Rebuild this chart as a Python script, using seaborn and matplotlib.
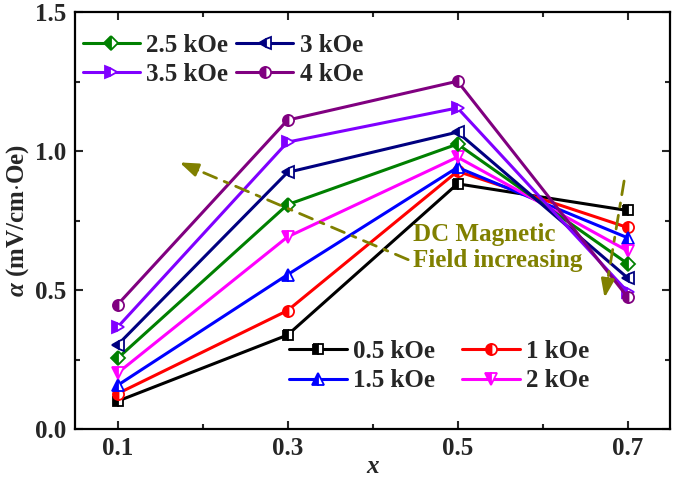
import matplotlib
matplotlib.use("Agg")
import matplotlib.pyplot as plt
import seaborn as sns
import pandas as pd
from matplotlib.ticker import MultipleLocator

sns.set_theme(style="ticks")
plt.rcParams['font.family'] = ['Liberation Serif', 'DejaVu Serif']
plt.rcParams['font.weight'] = 'bold'
plt.rcParams['mathtext.fontset'] = 'custom'
plt.rcParams['mathtext.it'] = 'Liberation Serif:italic:bold'
plt.rcParams['mathtext.rm'] = 'Liberation Serif:bold'
plt.rcParams['mathtext.bf'] = 'Liberation Serif:bold'

x_vals = [0.1, 0.3, 0.5, 0.7]
field_labels = ["0.5 kOe", "1 kOe", "1.5 kOe", "2 kOe", "2.5 kOe", "3 kOe", "3.5 kOe", "4 kOe"]
a_05 = [0.10, 0.338, 0.882, 0.786]
a_1 = [0.127, 0.426, 0.927, 0.725]
a_15 = [0.157, 0.555, 0.941, 0.688]
a_2 = [0.201, 0.691, 0.978, 0.641]
a_25 = [0.254, 0.807, 1.025, 0.595]
a_3 = [0.302, 0.923, 1.068, 0.544]
a_35 = [0.366, 1.032, 1.155, 0.494]
a_4 = [0.447, 1.111, 1.251, 0.475]
series = [a_05, a_1, a_15, a_2, a_25, a_3, a_35, a_4]

colors = ["#000000", "#FF0000", "#0000FF", "#FF00FF", "#008000", "#000080", "#8000FF", "#800080"]
markers = ["s", "o", "^", "v", "D", "<", ">", "o"]
msizes = [7, 8, 8.5, 8.5, 7, 8.5, 8.5, 8]

FS = 18

fig = plt.figure(figsize=(6.75, 4.8), dpi=100)
ax = fig.add_axes([75/675, 1-429/480, 595/675, 417/480])

handles = {}
for lab, vals, c, m, ms in zip(field_labels, series, colors, markers, msizes):
    df = pd.DataFrame({"x": x_vals, "alpha": vals})
    sns.lineplot(data=df, x="x", y="alpha", ax=ax, color=c, marker=m, markersize=ms,
                 fillstyle="left", markerfacecoloralt="white", markeredgecolor=c,
                 markeredgewidth=1.3, linewidth=2.2, label=lab, legend=False)
    handles[lab] = ax.lines[-1]

ax.set_xlim(0.05, 0.75)
ax.set_ylim(0.0, 1.5)
ax.xaxis.set_minor_locator(MultipleLocator(0.1))
ax.yaxis.set_minor_locator(MultipleLocator(0.25))
ax.set_xticks([0.1, 0.3, 0.5, 0.7])
ax.set_xticklabels(["0.1", "0.3", "0.5", "0.7"])
ax.set_yticks([0.0, 0.5, 1.0, 1.5])
ax.set_yticklabels(["0.0", "0.5", "1.0", "1.5"])
ax.tick_params(which="both", direction="in", top=True, right=True, width=1.5,
               labelsize=FS, pad=6)
ax.tick_params(which="major", length=6)
ax.tick_params(which="minor", length=3.5)
for lbl in ax.get_xticklabels() + ax.get_yticklabels():
    lbl.set_fontweight("bold")
for sp in ax.spines.values():
    sp.set_linewidth(1.6)
    sp.set_color("black")

ax.set_xlabel("x", fontsize=FS, fontstyle="italic", fontweight="bold", labelpad=-4)
ax.set_ylabel(r"$\alpha$ (mV/cm$\cdot$Oe)", fontsize=FS, fontweight="bold", labelpad=3)

olive = "#808000"
arrows = [((0.173, 0.959), (0.442, 0.609), (0.1945, 0.931)),
          ((0.673, 0.472), (0.696, 0.892), (0.677, 0.543))]
for tip, tail, near in arrows:
    ax.annotate("", xy=near, xytext=tail,
                arrowprops=dict(arrowstyle="-", color=olive, lw=2.0, linestyle=(0, (5, 3, 1.5, 3)),
                                shrinkA=0, shrinkB=0))
    ax.annotate("", xy=tip, xytext=near,
                arrowprops=dict(arrowstyle="-|>,head_length=1.1,head_width=0.4", color=olive,
                                lw=2.0, mutation_scale=10, shrinkA=0, shrinkB=0))
ax.text(0.448, 0.584, "DC Magnetic\nField increasing", color=olive, fontsize=FS,
        fontweight="bold", ha="left", va="baseline", linespacing=1.15)

order1 = ["2.5 kOe", "3.5 kOe", "3 kOe", "4 kOe"]
leg1 = ax.legend([handles[k] for k in order1], order1, loc="upper left",
                 bbox_to_anchor=(0.013, 0.948), ncol=2, frameon=False, fontsize=FS,
                 borderpad=0, borderaxespad=0, handlelength=2.3, handletextpad=0.25,
                 columnspacing=0.3, labelspacing=0.25)
ax.add_artist(leg1)
order2 = ["0.5 kOe", "1.5 kOe", "1 kOe", "2 kOe"]
ax.legend([handles[k] for k in order2], order2, loc="upper left",
          bbox_to_anchor=(0.36, 0.213), ncol=2, frameon=False, fontsize=FS,
          borderpad=0, borderaxespad=0, handlelength=2.3, handletextpad=0.25,
          columnspacing=1.1, labelspacing=0.25)

fig.savefig("out.png", dpi=100)
